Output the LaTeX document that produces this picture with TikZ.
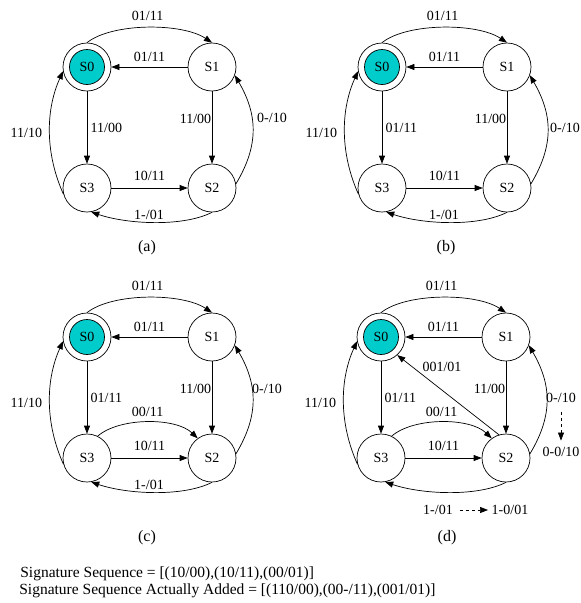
\documentclass[tikz,border=0pt]{standalone}
\usepackage{fontspec}
\setmainfont{Liberation Serif}
\usetikzlibrary{arrows.meta}
\definecolor{stfill}{RGB}{0,204,204}
\tikzset{
	state/.style={circle, draw, minimum size=48pt, inner sep=0pt},
	startin/.style={circle, draw, fill=stfill, minimum size=35pt, inner sep=0pt},
	edge/.style={-{Triangle[length=8pt,width=6pt]}},
	lbl/.style={font=\fontsize{14}{16}\selectfont},
	captxt/.style={font=\fontsize{16}{18}\selectfont},
	sigline/.style={font=\fontsize{15.5}{17}\selectfont, anchor=base west, inner sep=0pt}
}

\begin{document}
\begin{tikzpicture}[x=1pt, y=-1pt, line width=0.7pt, lbl]
	\useasboundingbox (0,0) rectangle (581,603);
	\foreach \pnl/\dx/\dy in {a/0/0, b/295/0, c/0/270, d/294/270} {
		\begin{scope}[shift={(\dx,\dy)}]
			\node[state] (\pnl0) at (87,67) {};
			\node[startin] (\pnl0i) at (87,67) {S0};
			\node[state] (\pnl1) at (212,67) {S1};
			\node[state] (\pnl2) at (212,188) {S2};
			\node[state] (\pnl3) at (87,188) {S3};
			\draw[edge] (\pnl0.north) .. controls +(25,-20) and +(-30,-20) .. (\pnl1.north) node[midway, above=3pt] {01/11};
			\draw[edge] (\pnl1) -- (\pnl0) node[midway, above=2pt] {01/11};
			\draw[edge] (\pnl1) -- (\pnl2) node[pos=0.38, left, inner xsep=0.5pt] {11/00};
			\draw[edge] (\pnl3) -- (\pnl2) node[midway, above=4pt] {10/11};
			\draw[edge] (\pnl2.south) .. controls +(-30,15) and +(35,12) .. (\pnl3.-80);
			\draw[edge] (\pnl2.10) .. controls +(24,-40) and +(22,38) .. (\pnl1.-20);
			\draw[edge] (\pnl3.195) .. controls +(-18,-40) and +(-18,40) .. (\pnl0.190) node[midway, left=4pt] {11/10};
		\end{scope}
	}
	\draw[edge] (a0) -- (a3) node[midway, right] {11/00};
	\draw[edge] (b0) -- (b3) node[midway, right] {01/11};
	\draw[edge] (c0) -- (c3) node[midway, right] {01/11};
	\draw[edge] (d0) -- (d3) node[midway, right] {01/11};
	\node (a01) at (149,215) {1-/01};
	\node (b01) at (444,215) {1-/01};
	\node (c01) at (149,485) {1-/01};
	\node (a10) at (272,118) {0-/10};
	\node (b10) at (565,128) {0-/10};
	\node (c10) at (267,389) {0-/10};
	\draw[edge] (c3.64) .. controls +(22,-19) and +(-22,-21) .. (c2.126) node[midway, above=2pt] {00/11};
	\draw[edge] (d3.64) .. controls +(22,-19) and +(-22,-21) .. (d2.126) node[midway, above=2pt] {00/11};
	\draw[edge] (d2.107) -- (d0.-48);
	\node (d001) at (442,367) {001/01};
	\node (d10) at (561,398) {0-/10};
	\node (d10n) at (561,452) {0-0/10};
	\draw[edge, dashed, shorten <=6pt, shorten >=3pt] (d10) -- (d10n);
	\node (d01) at (438,510) {1-/01};
	\node (d01n) at (510,510) {1-0/01};
	\draw[edge, dashed, shorten <=4pt] (d01) -- (d01n);
	\node[captxt] (capa) at (147,248) {(a)};
	\node[captxt] (capb) at (446,248) {(b)};
	\node[captxt] (capc) at (147,538) {(c)};
	\node[captxt] (capd) at (447,538) {(d)};
	\node[sigline] (sig1) at (20,577) {Signature Sequence = [(10/00),(10/11),(00/01)]};
	\node[sigline] (sig2) at (19,594) {Signature Sequence Actually Added = [(110/00),(00-/11),(001/01)]};
\end{tikzpicture}
\end{document}
